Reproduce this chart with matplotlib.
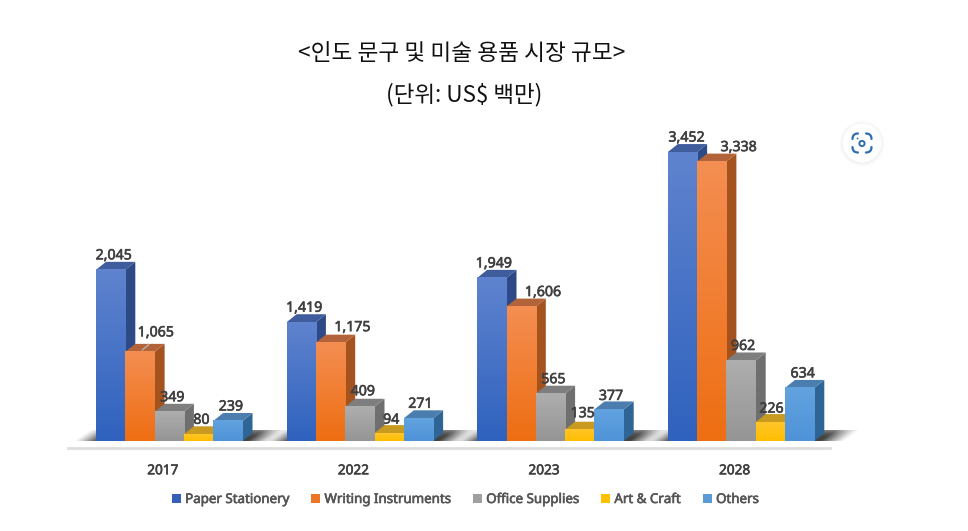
import numpy as np
import matplotlib
matplotlib.use("Agg")
import matplotlib.pyplot as plt
import matplotlib.patheffects as pe
from matplotlib.patches import Polygon, Circle, Rectangle, PathPatch
from matplotlib.path import Path
from matplotlib.colors import LinearSegmentedColormap

years = ["2017", "2022", "2023", "2028"]
series_names = ["Paper Stationery", "Writing Instruments", "Office Supplies", "Art & Craft", "Others"]
paper = [2045, 1419, 1949, 3452]
writing = [1065, 1175, 1606, 3338]
office = [349, 409, 565, 962]
art = [80, 94, 135, 226]
others = [239, 271, 377, 634]
title_main = "<인도 문구 및 미술 용품 시장 규모>"
title_unit = "(단위: US$ 백만)"

# style: front gradient top, front gradient bottom, side, top face
front_top = ["#5F83CE", "#F48E52", "#AEAEAE", "#FFC52A", "#62A3DF"]
front_bot = ["#2F62BE", "#EE6E12", "#959595", "#FFBE00", "#4F93D8"]
side_cols = ["#2D4A86", "#A4521E", "#6F6F6F", "#A97F10", "#2F6595"]
top_cols = ["#3F5C9C", "#B2633A", "#7E7E7E", "#C99A20", "#4B7DAE"]
legend_cols = ["#3560B8", "#EE7428", "#A0A0A0", "#FFC000", "#5B9BD5"]

# label offsets in px from the bar's back top centre
off_x = [[-7, 6, -7, -7, -7], [-7, 12, -7, -8, -8], [-8, 12, -7, -7, -8], [-6, 17, -8, -9, -7]]
off_y = [[6, 11, 6, 6, 6], [6, 7, 7, 5, 6], [6, 6, 6, 8, 5], [6, 6, 6, 5, 6]]

W, H = 968, 531
PX = 0.0837           # px per unit
SP = 190.6            # px per group
X0 = 169.25           # px of first group centre
BASE = 441.0
AX_L, AX_R, AX_B, AX_T = 68.0, 830.0, 448.0, 120.0

plt.rcParams["font.family"] = ["Noto Sans", "DejaVu Sans"]
fig = plt.figure(figsize=(W / 100, H / 100), dpi=100)
ax = fig.add_axes([AX_L / W, 1 - AX_B / H, (AX_R - AX_L) / W, (AX_B - AX_T) / H])
xlim = ((AX_L - X0) / SP, (AX_R - X0) / SP)
ylim = ((BASE - AX_B) / PX, (BASE - AX_T) / PX)

bw = 29.3 / SP
DX = 10 / SP
DY = 8 / PX
values = [paper, writing, office, art, others]


def heavy(color, w=0.45):
    return [pe.withStroke(linewidth=w, foreground=color)]


# floor shadow: a sheared gradient, fading towards both slanted ends
SHADOW_H = 10.5 / PX
SHEAR = 15.0           # px of slant over the shadow's height
SHADOW_W = 198.0       # px
cols = np.linspace(0, SHADOW_W + SHEAR, 300)
rows = np.linspace(1, 0, 24)             # 1 = back edge (image top)
xx, rr = np.meshgrid(cols, rows)
u = xx - rr * SHEAR
edge = np.clip(np.minimum(u, SHADOW_W - u) / 24, 0, 1)
rgba = np.zeros((24, 300, 4))
rgba[..., :3] = 0.26
rgba[..., 3] = edge ** 1.2 * (1 - 0.35 * rr ** 3)
for g in range(len(years)):
    l = g - 2.5 * bw - 22 / SP
    r = l + (SHADOW_W + SHEAR) / SP
    im = ax.imshow(rgba, extent=(l, r, 0, SHADOW_H), aspect="auto", zorder=1, interpolation="bilinear")
    im.set_clip_box(fig.bbox)

# bars
z = 2
for g, yr in enumerate(years):
    for s, vals in enumerate(values):
        v = vals[g]
        l = g + (s - 2.5) * bw
        r = l + bw
        ax.add_patch(Polygon([(r, 0), (r + DX, DY), (r + DX, v + DY), (r, v)],
                             fc=side_cols[s], ec="none", zorder=z))
        ax.add_patch(Polygon([(l, v), (r, v), (r + DX, v + DY), (l + DX, v + DY)],
                             fc=top_cols[s], ec="none", zorder=z))
        cm = LinearSegmentedColormap.from_list("c", [front_top[s], front_bot[s]])
        ax.imshow(np.linspace(0, 1, 128)[:, None], extent=(l, r, 0, v), aspect="auto",
                  cmap=cm, zorder=z + 0.5, interpolation="bilinear")
        ax.annotate(f"{v:,}", xy=(l + bw / 2 + DX, v + DY),
                    xytext=(off_x[g][s] * 0.72, off_y[g][s] * 0.72), textcoords="offset points",
                    ha="center", va="center", fontsize=10.2, color="#404040", zorder=50,
                    path_effects=heavy("#404040"))
        z += 1

# leader line of the 1,065 label
ax.annotate("", xy=(0 - 1.5 * bw + bw / 2, writing[0]),
            xytext=(0 - 1.5 * bw + bw / 2 + 11 / SP, writing[0] + 9 / PX),
            arrowprops=dict(arrowstyle="-", color="#B8B8B8", lw=0.9), zorder=60)

ax.set_xlim(xlim)
ax.set_ylim(ylim)
ax.set_xticks(np.arange(len(years)) - 6.5 / SP, years)
ax.set_yticks([])
ax.patch.set_alpha(0)
for k in ("top", "left", "right"):
    ax.spines[k].set_visible(False)
ax.spines["bottom"].set_color("#DEDEDE")
ax.spines["bottom"].set_linewidth(2.0)
ax.tick_params(axis="x", length=0, pad=11, labelcolor="#404040")
for t in ax.get_xticklabels():
    t.set_fontsize(9.8)
    t.set_path_effects(heavy("#404040"))

cjk = ["Noto Sans CJK KR", "DejaVu Sans"]
fig.text(462 / W, 1 - 53 / H, title_main, ha="center", va="center", fontsize=16.3, family=cjk, color="#111111")
fig.text(464 / W, 1 - 95 / H, title_unit, ha="center", va="center", fontsize=16.2, family=cjk, color="#111111")

handles = [Rectangle((0, 0), 1, 1, fc=c, ec="none") for c in legend_cols]
leg = fig.legend(handles, series_names, ncols=5, loc="center", bbox_to_anchor=(465.5 / W, 1 - 499.5 / H),
                 frameon=False, handlelength=0.68, handleheight=0.7, handletextpad=0.3,
                 columnspacing=1.65, labelcolor="#555555",
                 prop={"family": "Noto Sans", "size": 9.6})
for t in leg.get_texts():
    t.set_path_effects(heavy("#555555"))

# screenshot's lens button, drawn in pixel space
ov = fig.add_axes([0, 0, 1, 1], zorder=100)
ov.set_xlim(0, W)
ov.set_ylim(H, 0)
ov.axis("off")
for r_, a_ in [(23, .02), (22, .03), (21, .04), (20, .05)]:
    ov.add_patch(Circle((862, 143.5), r_, fc="#999999", alpha=a_, ec="none"))
ov.add_patch(Circle((862, 143), 19.5, fc="white", ec="none"))
col = "#2F6DB5"
for sx, sy in [(-1, -1), (1, -1), (-1, 1), (1, 1)]:
    p = Path([(862 + sx * 4, 143 + sy * 9.5), (862 + sx * 9.5, 143 + sy * 9.5), (862 + sx * 9.5, 143 + sy * 4)],
             [Path.MOVETO, Path.CURVE3, Path.CURVE3])
    ov.add_patch(PathPatch(p, fc="none", ec=col, lw=1.6, capstyle="round"))
ov.add_patch(Circle((862, 143.5), 2.6, fc="none", ec=col, lw=1.4))
ov.add_patch(Circle((857.5, 138.5), 0.9, fc=col, ec="none"))

fig.savefig("out.png", dpi=100, facecolor="white")
